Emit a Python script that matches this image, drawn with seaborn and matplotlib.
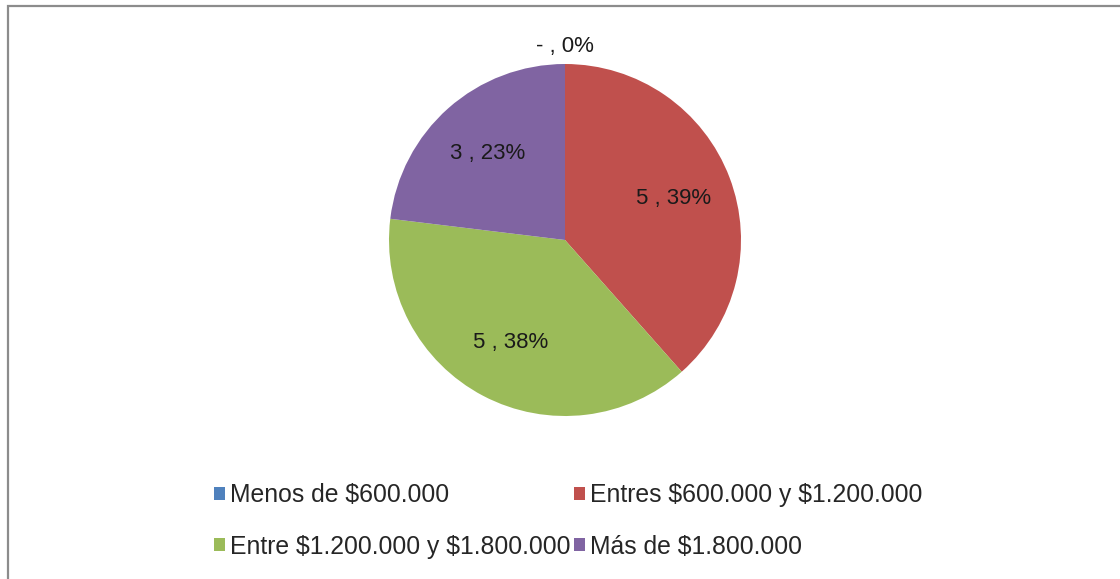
import matplotlib.pyplot as plt
import numpy as np
import seaborn as sns
from matplotlib.patches import Rectangle

categories = [
    "Menos de $600.000",
    "Entres $600.000 y $1.200.000",
    "Entre $1.200.000 y $1.800.000",
    "Más de $1.800.000",
]
counts = [0, 5, 5, 3]
count_labels = ["-", "5", "5", "3"]
percent_labels = ["0%", "39%", "38%", "23%"]
colors = ["#4F81BD", "#C0504D", "#9BBB59", "#8064A2"]

sns.set_style("white")
plt.rcParams["font.family"] = ["Liberation Sans Narrow", "Liberation Sans", "DejaVu Sans"]

fig = plt.figure(figsize=(11.2, 5.79), dpi=100)
ax = fig.add_axes([(565 - 176) / 1120, (579 - 240 - 176) / 579, 352 / 1120, 352 / 579])

wedges, _ = ax.pie(
    counts,
    colors=colors,
    startangle=90,
    counterclock=False,
    radius=1.0,
    wedgeprops={"linewidth": 0},
)
ax.set_xlim(-1, 1)
ax.set_ylim(-1, 1)
ax.axis("off")

for wedge, n, cl, pl in zip(wedges, counts, count_labels, percent_labels):
    mid = np.deg2rad((wedge.theta1 + wedge.theta2) / 2)
    r = 1.1 if n == 0 else 0.66
    ax.text(r * np.cos(mid), r * np.sin(mid), f"{cl} , {pl}",
            ha="center", va="center", fontsize=16, color="#1a1a1a")

# legend fills row by row like the original, matplotlib fills by column
order = [0, 2, 1, 3]
fig.legend(
    [wedges[i] for i in order],
    [categories[i].replace("$", r"\$") for i in order],
    ncol=2, loc="center", bbox_to_anchor=(568 / 1120, 1 - 521 / 579),
    frameon=False, fontsize=17.8, handlelength=0.45, handleheight=0.45,
    handletextpad=0.2, columnspacing=0.15, labelspacing=1.1,
)

fig.add_artist(Rectangle((7.5 / 1120, -0.1), 1.2, (579 - 6.5) / 579 + 0.1,
                         transform=fig.transFigure, fill=False,
                         edgecolor="#8c8c8c", linewidth=1.6))

fig.savefig("out.png", dpi=100, facecolor="white")
